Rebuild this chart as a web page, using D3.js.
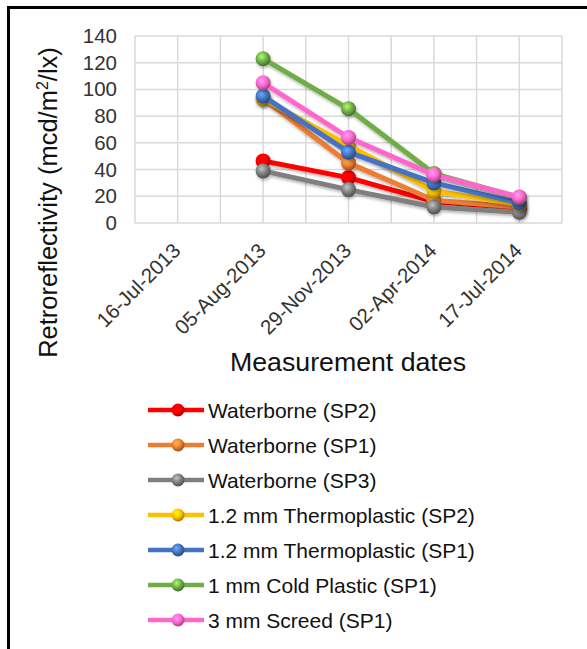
<!DOCTYPE html>
<html>
<head>
<meta charset="utf-8">
<script src="https://cdn.jsdelivr.net/npm/d3@7"></script>
<style>
  body { margin: 0; background: #fff; }
  svg { font-family: "Liberation Sans", Arial, sans-serif; }
</style>
</head>
<body>
<div id="chart"></div>
<script>
const dates = ['16-Jul-2013', '05-Aug-2013', '29-Nov-2013', '02-Apr-2014', '17-Jul-2014']
const seriesNames = [
  'Waterborne (SP2)',
  'Waterborne (SP1)',
  'Waterborne (SP3)',
  '1.2 mm Thermoplastic (SP2)',
  '1.2 mm Thermoplastic (SP1)',
  '1 mm Cold Plastic (SP1)',
  '3 mm Screed (SP1)'
]
const colors = ['#ff0000', '#ed7d31', '#7f7f7f', '#ffc000', '#4472c4', '#70ad47', '#ff66cc']
const waterborneSP2 = [null, 46.5, 34, 16, 11]
const waterborneSP1 = [null, 93, 45, 17, 12]
const waterborneSP3 = [null, 39, 25, 12, 8]
const thermoSP2 = [null, 93, 58, 24, 14]
const thermoSP1 = [null, 95, 53, 30, 15]
const coldPlasticSP1 = [null, 123, 85.5, 37, 19]
const screedSP1 = [null, 105, 64, 36, 19.5]
const yTicks = [0, 20, 40, 60, 80, 100, 120, 140]

const values = [waterborneSP2, waterborneSP1, waterborneSP3, thermoSP2, thermoSP1, coldPlasticSP1, screedSP1]

const width = 587
const height = 649
const plot = { left: 135, right: 562, top: 36, bottom: 223 }
const font = '"Liberation Sans", Arial, sans-serif'

const svg = d3.select('#chart').append('svg')
  .attr('width', width)
  .attr('height', height)

// sphere-looking markers
const defs = svg.append('defs')
colors.forEach((c, i) => {
  const g = defs.append('radialGradient')
    .attr('id', 'ball' + i)
    .attr('cx', '40%').attr('cy', '35%').attr('r', '65%')
  g.append('stop').attr('offset', '0%').attr('stop-color', d3.color(c).brighter(1.2))
  g.append('stop').attr('offset', '55%').attr('stop-color', c)
  g.append('stop').attr('offset', '100%').attr('stop-color', d3.color(c).darker(1.3))
})
const shadow = defs.append('filter').attr('id', 'shadow')
  .attr('x', '-20%').attr('y', '-20%').attr('width', '140%').attr('height', '140%')
shadow.append('feDropShadow')
  .attr('dx', 1).attr('dy', 2).attr('stdDeviation', 1.5)
  .attr('flood-color', '#000').attr('flood-opacity', 0.3)

// frame: top and left edges only
svg.append('line').attr('x1', 7).attr('x2', width).attr('y1', 7.5).attr('y2', 7.5)
  .attr('stroke', '#000').attr('stroke-width', 3)
svg.append('line').attr('x1', 8.5).attr('x2', 8.5).attr('y1', 6).attr('y2', height)
  .attr('stroke', '#000').attr('stroke-width', 3)

const x = d3.scaleBand().domain(dates).range([plot.left, plot.right])
const y = d3.scaleLinear().domain([0, 140]).range([plot.bottom, plot.top])

// gridlines: category edges and centres
const grid = svg.append('g').attr('stroke', '#d9d9d9').attr('stroke-width', 1.5)
const vx = []
dates.forEach(d => { vx.push(x(d)); vx.push(x(d) + x.bandwidth() / 2) })
vx.push(plot.right)
grid.selectAll('line.v').data(vx).enter().append('line')
  .attr('x1', d => d).attr('x2', d => d)
  .attr('y1', plot.top).attr('y2', plot.bottom)
grid.selectAll('line.h').data(yTicks).enter().append('line')
  .attr('x1', plot.left).attr('x2', plot.right)
  .attr('y1', d => y(d)).attr('y2', d => y(d))

// y axis labels
const yAxis = svg.append('g')
  .attr('transform', `translate(${plot.left},0)`)
  .call(d3.axisLeft(y).tickValues(yTicks).tickSize(0).tickPadding(18))
yAxis.select('.domain').remove()
yAxis.selectAll('text')
  .attr('font-size', 20.5).attr('fill', '#333')
  .attr('font-family', font)

// x axis labels
const xAxis = svg.append('g')
  .attr('transform', `translate(0,${plot.bottom})`)
  .call(d3.axisBottom(x).tickSize(0).tickPadding(0))
xAxis.select('.domain').remove()
xAxis.selectAll('text')
  .attr('font-size', 20.5).attr('fill', '#333')
  .attr('font-family', font)
  .attr('text-anchor', 'end')
  .attr('dy', 0)
  .attr('transform', 'translate(4,29) rotate(-45)')

// axis titles
svg.append('text')
  .attr('transform', `translate(57,${(40 + 365) / 2}) rotate(-90)`)
  .attr('text-anchor', 'middle')
  .attr('font-size', 25.5).attr('fill', '#111')
  .html('Retroreflectivity (mcd/m<tspan dy="-9" font-size="16">2</tspan><tspan dy="9">/lx)</tspan>')
svg.append('text')
  .attr('x', 230).attr('y', 371)
  .attr('textLength', 236).attr('lengthAdjust', 'spacingAndGlyphs')
  .attr('font-size', 25).attr('fill', '#111')
  .text('Measurement dates')

// series
const line = d3.line()
  .defined(d => d.v != null)
  .x(d => x(d.date) + x.bandwidth() / 2)
  .y(d => y(d.v))

const series = seriesNames.map((name, i) => ({
  name, i,
  pts: dates.map((date, j) => ({ date, v: values[i][j] }))
}))

const sg = svg.selectAll('g.series').data(series).enter().append('g')
  .attr('class', 'series')
  .attr('filter', 'url(#shadow)')
sg.append('path')
  .attr('d', d => line(d.pts))
  .attr('fill', 'none')
  .attr('stroke', d => colors[d.i])
  .attr('stroke-width', 5)
  .attr('stroke-linejoin', 'round')
sg.selectAll('circle')
  .data(d => d.pts.filter(p => p.v != null).map(p => ({ ...p, i: d.i })))
  .enter().append('circle')
  .attr('cx', d => x(d.date) + x.bandwidth() / 2)
  .attr('cy', d => y(d.v))
  .attr('r', 7.5)
  .attr('fill', d => `url(#ball${d.i})`)

// legend
const legend = svg.append('g')
const li = legend.selectAll('g').data(seriesNames).enter().append('g')
  .attr('transform', (d, i) => `translate(0,${410 + i * 35})`)
li.append('line')
  .attr('x1', 148).attr('x2', 204).attr('y1', 0).attr('y2', 0)
  .attr('stroke', (d, i) => colors[i]).attr('stroke-width', 4.5)
li.append('circle')
  .attr('cx', 178).attr('cy', 0).attr('r', 6.5)
  .attr('fill', (d, i) => `url(#ball${i})`)
li.append('text')
  .attr('x', 208).attr('y', 7.5)
  .attr('font-size', 21).attr('fill', '#111')
  .text(d => d)
</script>
</body>
</html>
